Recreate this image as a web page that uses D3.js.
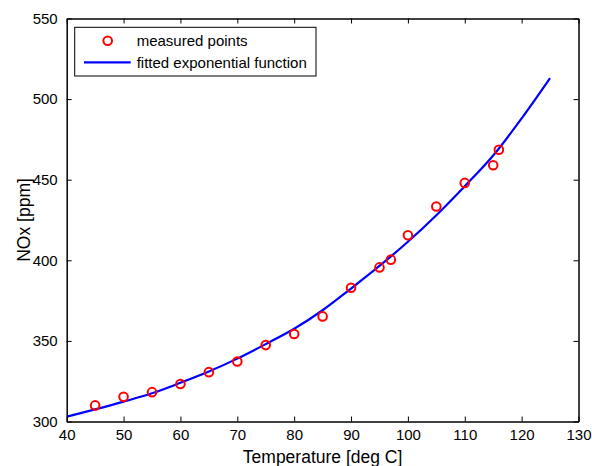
<!DOCTYPE html>
<html>
<head>
<meta charset="utf-8">
<script src="https://cdn.jsdelivr.net/npm/d3@7"></script>
<style>
  html, body { margin: 0; padding: 0; background: #fff; }
  svg { display: block; }
  text { font-family: "Liberation Sans", Arial, sans-serif; fill: #000; }
</style>
</head>
<body>
<script>
// Measured points
const measuredTemp = [45, 50, 55, 60, 65, 70, 75, 80, 85, 90, 95, 97, 100, 105, 110, 115, 116];
const measuredNOx  = [310, 315.3, 318.2, 323.3, 330.6, 337.2, 347.4, 354.3, 365.2, 383, 395.6, 400.4, 415.5, 433.4, 448, 459, 468.6];

// Fitted exponential function
const fitTemp = [40, 45, 50, 55, 60, 65, 70, 75, 80, 85, 90, 95, 100, 105, 110, 115, 120, 125];
const fitNOx  = [303, 307.5, 312.3, 317.5, 324, 331, 339, 348, 357.5, 369, 382.5, 396.5, 411.5, 428, 446, 465, 488, 513];

const xTicks = [40, 50, 60, 70, 80, 90, 100, 110, 120, 130];
const yTicks = [300, 350, 400, 450, 500, 550];

const legendLabels = ["measured points", "fitted exponential function"];
const xTitle = "Temperature [deg C]";
const yTitle = "NOx [ppm]";

const W = 592, H = 466;
const L = 66.7, R = 578.5, T = 18.5, B = 421.5;

const svg = d3.select("body").append("svg").attr("width", W).attr("height", H);

const x = d3.scaleLinear().domain([40, 130]).range([L, R]);
const y = d3.scaleLinear().domain([300, 550]).range([B, T]);

const tickLen = 5;

svg.append("defs").append("clipPath").attr("id", "clip")
  .append("rect").attr("x", L).attr("y", T).attr("width", R - L).attr("height", B - T);

// Fitted curve
const line = d3.line().x(d => x(d[0])).y(d => y(d[1])).curve(d3.curveMonotoneX);
svg.append("path")
  .datum(fitTemp.map((t, i) => [t, fitNOx[i]]))
  .attr("d", line)
  .attr("fill", "none")
  .attr("stroke", "#0000ff")
  .attr("stroke-width", 2.2)
  .attr("clip-path", "url(#clip)");

// Measured points
svg.append("g").selectAll("circle")
  .data(measuredTemp.map((t, i) => [t, measuredNOx[i]]))
  .join("circle")
  .attr("cx", d => x(d[0]))
  .attr("cy", d => y(d[1]))
  .attr("r", 4.3)
  .attr("fill", "none")
  .attr("stroke", "#ff0000")
  .attr("stroke-width", 2);

// Axes (ticks inward)
const fmt = d3.format("d");
const gxB = svg.append("g").attr("transform", `translate(0,${B})`)
  .call(d3.axisBottom(x).tickValues(xTicks).tickFormat(fmt).tickSizeInner(-tickLen).tickSizeOuter(0).tickPadding(8));
const gxT = svg.append("g").attr("transform", `translate(0,${T})`)
  .call(d3.axisTop(x).tickValues(xTicks).tickFormat("").tickSizeInner(-tickLen).tickSizeOuter(0));
const gyL = svg.append("g").attr("transform", `translate(${L},0)`)
  .call(d3.axisLeft(y).tickValues(yTicks).tickFormat(fmt).tickSizeInner(-tickLen).tickSizeOuter(0).tickPadding(9));
const gyR = svg.append("g").attr("transform", `translate(${R},0)`)
  .call(d3.axisRight(y).tickValues(yTicks).tickFormat("").tickSizeInner(-tickLen).tickSizeOuter(0));

[gxB, gxT, gyL, gyR].forEach(g => {
  g.select(".domain").attr("stroke", "#000").attr("stroke-width", 1.5);
  g.selectAll(".tick line").attr("stroke", "#000").attr("stroke-width", 1);
  g.selectAll(".tick text").attr("font-size", 15).attr("font-family", "Liberation Sans, Arial, sans-serif").attr("fill", "#000");
});

// Axis titles
svg.append("text")
  .attr("x", (L + R) / 2).attr("y", 463)
  .attr("text-anchor", "middle")
  .attr("font-size", 17.5)
  .text(xTitle);

svg.append("text")
  .attr("transform", `translate(30,${(T + B) / 2}) rotate(-90)`)
  .attr("text-anchor", "middle")
  .attr("font-size", 17.5)
  .text(yTitle);

// Legend
const lg = svg.append("g");
lg.append("rect")
  .attr("x", 74.7).attr("y", 27.3).attr("width", 241.3).attr("height", 48.7)
  .attr("fill", "#fff").attr("stroke", "#000").attr("stroke-width", 1);
lg.append("circle")
  .attr("cx", 107.7).attr("cy", 40.7).attr("r", 4.3)
  .attr("fill", "none").attr("stroke", "#ff0000").attr("stroke-width", 2);
lg.append("line")
  .attr("x1", 84).attr("x2", 130.7).attr("y1", 62.3).attr("y2", 62.3)
  .attr("stroke", "#0000ff").attr("stroke-width", 2.2);
lg.selectAll("text.lab")
  .data(legendLabels)
  .join("text")
  .attr("class", "lab")
  .attr("x", 136.7)
  .attr("y", (d, i) => 46 + i * 21.6)
  .attr("font-size", 15)
  .text(d => d);
</script>
</body>
</html>
